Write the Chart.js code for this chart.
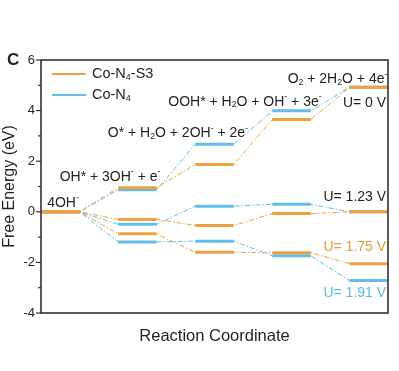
<!DOCTYPE html>
<html><head><meta charset="utf-8">
<script src="https://cdn.jsdelivr.net/npm/chart.js@4.4.0/dist/chart.umd.min.js"></script>
<style>html,body{margin:0;padding:0;background:#fff;}</style>
</head><body>
<canvas id="c" width="399" height="371" style="width:399px;height:371px;display:block"></canvas>
<script>
// ---- data (free energy, eV) per reaction step ----
const stepNames = ['4OH^-', 'OH* + 3OH^- + e^-', 'O* + H_2O + 2OH^- + 2e^-', 'OOH* + H_2O + OH^- + 3e^-', 'O_2 + 2H_2O + 4e^-'];
const coN4S3_U0   = [0, 0.95, 1.87, 3.65, 4.92];
const coN4_U0     = [0, 0.87, 2.67, 3.99, 4.92];
const coN4S3_U123 = [0, -0.30, -0.54, -0.07, 0];
const coN4_U123   = [0, -0.49, 0.22, 0.30, 0];
const coN4S3_U175 = [0, -0.87, -1.60, -1.62, -2.05];
const coN4_U191   = [0, -1.19, -1.16, -1.74, -2.72];
const seriesNames = ['Co-N_4-S3', 'Co-N_4'];
const potentialLabels = ['U= 0 V', 'U= 1.23 V', 'U= 1.75 V', 'U= 1.91 V'];
const yTicks = [-4, -2, 0, 2, 4, 6];
const yMinorTicks = [-3, -1, 1, 3, 5];

const ORANGE = '#EFA040';
const BLUE = '#62BDE8';
const INK = '#232323';
const FONT = '"Liberation Sans", Arial, Helvetica, sans-serif';

function levelPts(vals) {
  const pts = [];
  vals.forEach((v, i) => {
    pts.push({x: 2 * i, y: v}, {x: 2 * i + 1, y: v});
    if (i < vals.length - 1) pts.push({x: 2 * i + 1.5, y: null});
  });
  return pts;
}
function pathPts(vals) {
  const pts = [];
  vals.forEach((v, i) => { pts.push({x: 2 * i, y: v}, {x: 2 * i + 1, y: v}); });
  return pts;
}
const series = [
  {vals: coN4S3_U0, color: ORANGE, top: true},
  {vals: coN4_U0, color: BLUE, top: false},
  {vals: coN4S3_U123, color: ORANGE, top: true},
  {vals: coN4_U123, color: BLUE, top: false},
  {vals: coN4S3_U175, color: ORANGE, top: true},
  {vals: coN4_U191, color: BLUE, top: false}
];
const datasets = [];
series.forEach(s => {
  datasets.push({data: levelPts(s.vals), borderColor: s.color, borderWidth: 3, pointRadius: 0, spanGaps: false, order: s.top ? 1 : 2, borderCapStyle: 'butt'});
  datasets.push({data: pathPts(s.vals), borderColor: s.color, borderWidth: 1, pointRadius: 0, borderDash: [5, 2, 1.5, 2], order: 10});
});

// annotation placement (data coordinates)
const annotations = [
  {text: stepNames[0], x: 0.16, y: 0.36, align: 'left', color: INK},
  {text: stepNames[1], x: 1.79, y: 1.38, align: 'center', color: INK},
  {text: stepNames[2], x: 3.55, y: 3.10, align: 'center', color: INK},
  {text: stepNames[3], x: 5.29, y: 4.35, align: 'center', color: INK},
  {text: stepNames[4], x: 7.69, y: 5.23, align: 'center', color: INK},
  {text: potentialLabels[0], x: 8.95, y: 4.31, align: 'right', color: INK},
  {text: potentialLabels[1], x: 8.95, y: 0.57, align: 'right', color: INK},
  {text: potentialLabels[2], x: 8.95, y: -1.39, align: 'right', color: '#E79A33'},
  {text: potentialLabels[3], x: 8.95, y: -3.2, align: 'right', color: '#5DB9E4'}
];

function parseRich(s) {
  const out = [];
  for (let i = 0; i < s.length; i++) {
    const c = s[i];
    if ((c === '^' || c === '_') && i + 1 < s.length) { out.push({t: s[i + 1], m: c}); i++; }
    else {
      if (out.length && out[out.length - 1].m === 'n') out[out.length - 1].t += c;
      else out.push({t: c, m: 'n'});
    }
  }
  return out;
}
function drawRich(ctx, s, x, y, size, color, align, weight) {
  const segs = parseRich(s);
  const w = weight || 'normal';
  let total = 0;
  segs.forEach(g => {
    const sz = g.m === 'n' ? size : size * 0.62;
    ctx.font = w + ' ' + sz + 'px ' + FONT;
    g.w = ctx.measureText(g.t).width; g.sz = sz; total += g.w;
  });
  let cx = align === 'left' ? x : align === 'right' ? x - total : x - total / 2;
  ctx.fillStyle = color; ctx.textBaseline = 'middle'; ctx.textAlign = 'left';
  segs.forEach(g => {
    ctx.font = w + ' ' + g.sz + 'px ' + FONT;
    let dy = 0;
    if (g.m === '^') dy = -size * 0.35;
    if (g.m === '_') dy = size * 0.22;
    ctx.fillText(g.t, cx, y + dy);
    cx += g.w;
  });
}

const decor = {
  id: 'decor',
  afterDraw(chart) {
    const ctx = chart.ctx, a = chart.chartArea;
    const xs = chart.scales.x, ys = chart.scales.y;
    ctx.save();
    // frame
    ctx.strokeStyle = '#333'; ctx.lineWidth = 1.6;
    ctx.strokeRect(a.left, a.top, a.right - a.left, a.bottom - a.top);
    // ticks
    ctx.lineWidth = 1.2;
    yTicks.forEach(v => { const p = ys.getPixelForValue(v); ctx.beginPath(); ctx.moveTo(a.left - 5, p); ctx.lineTo(a.left, p); ctx.stroke(); });
    yMinorTicks.forEach(v => { const p = ys.getPixelForValue(v); ctx.beginPath(); ctx.moveTo(a.left - 3, p); ctx.lineTo(a.left, p); ctx.stroke(); });
    // legend
    const leg = [{c: ORANGE, y: 74}, {c: BLUE, y: 95}];
    leg.forEach((l, i) => {
      ctx.strokeStyle = l.c; ctx.lineWidth = 2; ctx.setLineDash([]);
      ctx.beginPath(); ctx.moveTo(52, l.y); ctx.lineTo(86, l.y); ctx.stroke();
      drawRich(ctx, seriesNames[i], 92, l.y, 14.5, INK, 'left');
    });
    // annotations
    annotations.forEach(an => {
      drawRich(ctx, an.text, xs.getPixelForValue(an.x), ys.getPixelForValue(an.y), 14, an.color, an.align);
    });
    // x title
    ctx.font = '16.5px ' + FONT; ctx.fillStyle = INK; ctx.textAlign = 'center'; ctx.textBaseline = 'middle';
    ctx.fillText('Reaction Coordinate', (a.left + a.right) / 2, 336);
    // panel label
    ctx.font = 'bold 17px ' + FONT; ctx.textAlign = 'left';
    ctx.fillText('C', 7, 60);
    ctx.restore();
  }
};

new Chart(document.getElementById('c'), {
  type: 'line',
  data: {datasets},
  options: {
    responsive: false, animation: false, devicePixelRatio: 1,
    layout: {padding: {left: 0, top: 60, right: 11, bottom: 58}},
    plugins: {legend: {display: false}, tooltip: {enabled: false}},
    scales: {
      x: {type: 'linear', min: 0, max: 9, display: false},
      y: {
        min: -4, max: 6,
        afterBuildTicks: s => { s.ticks = yTicks.map(v => ({value: v})); },
        afterFit: s => { s.width = 41; },
        ticks: {color: INK, font: {size: 13, family: FONT}, padding: 6},
        grid: {display: false, drawTicks: false},
        border: {display: false},
        title: {display: true, text: 'Free Energy (eV)', color: INK, font: {size: 16, family: FONT}, padding: {top: 0, bottom: 2}}
      }
    }
  },
  plugins: [decor]
});
</script>
</body></html>
